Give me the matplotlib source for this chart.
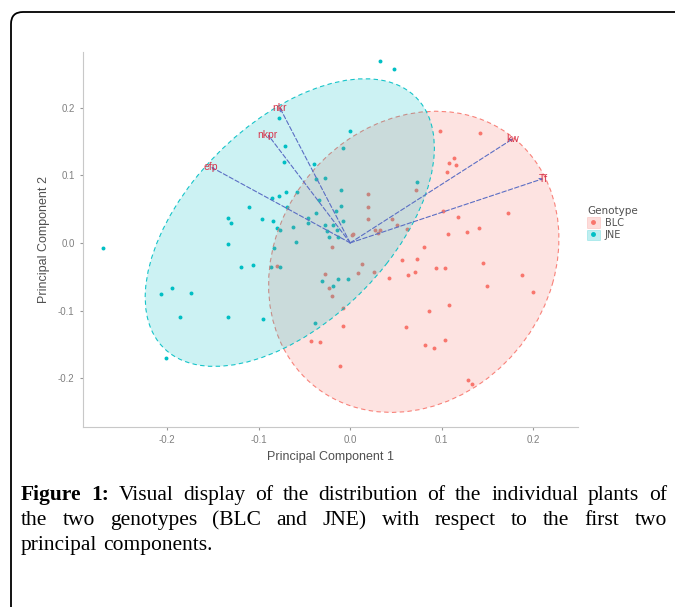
import matplotlib
matplotlib.use("Agg")
import matplotlib.pyplot as plt
from matplotlib.patches import Ellipse, FancyBboxPatch, Patch
from matplotlib.lines import Line2D

# PC scores of the individual plants
jne_pc1 = [0.033, 0.048, -0.078, -0.071, -0.072, 0.000, -0.008, -0.040, -0.037, -0.028,
           -0.010, -0.085, -0.078, -0.070, -0.058, -0.111, -0.134, -0.130, -0.133, -0.270,
           -0.096, -0.084, -0.080, -0.077, -0.069, -0.062, -0.046, -0.046, -0.034, -0.037,
           -0.010, -0.015, -0.008, -0.028, -0.019, -0.025, -0.014, -0.023, -0.013, -0.059,
           0.073, -0.083, -0.086, -0.077, -0.119, -0.106, -0.207, -0.195, -0.174, -0.186,
           -0.133, -0.095, -0.201, -0.031, -0.019, -0.013, -0.002, -0.038]
jne_pc2 = [0.268, 0.257, 0.184, 0.143, 0.119, 0.165, 0.140, 0.116, 0.094, 0.096,
           0.078, 0.067, 0.070, 0.075, 0.075, 0.053, 0.037, 0.029, -0.002, -0.008,
           0.036, 0.033, 0.022, 0.019, 0.053, 0.023, 0.037, 0.029, 0.064, 0.044,
           0.055, 0.047, 0.032, 0.026, 0.026, 0.017, 0.019, 0.008, 0.008, 0.001,
           0.090, -0.008, -0.036, -0.036, -0.036, -0.032, -0.076, -0.067, -0.074, -0.110,
           -0.110, -0.113, -0.170, -0.057, -0.064, -0.054, -0.054, -0.119]

blc_pc1 = [0.098, 0.142, 0.113, 0.108, 0.116, 0.106, 0.072, 0.019, 0.020, 0.020,
           0.102, 0.118, 0.172, 0.046, 0.051, 0.062, 0.027, 0.033, 0.030, 0.107,
           0.128, 0.141, 0.003, 0.081, -0.020, 0.057, 0.073, 0.145, 0.013, -0.027,
           0.009, 0.026, 0.042, 0.063, 0.071, 0.094, 0.104, 0.188, 0.149, 0.200,
           -0.023, -0.020, 0.108, 0.086, -0.008, -0.008, 0.061, 0.104, 0.082, 0.092,
           -0.043, -0.033, -0.011, 0.129, 0.133, -0.080, 0.002]
blc_pc2 = [0.165, 0.163, 0.125, 0.118, 0.115, 0.104, 0.078, 0.072, 0.053, 0.036,
           0.047, 0.038, 0.044, 0.036, 0.026, 0.020, 0.019, 0.019, 0.014, 0.013,
           0.016, 0.022, 0.013, -0.006, -0.006, -0.026, -0.024, -0.029, -0.031, -0.046,
           -0.045, -0.043, -0.052, -0.048, -0.043, -0.037, -0.037, -0.048, -0.064, -0.073,
           -0.067, -0.079, -0.092, -0.100, -0.096, -0.123, -0.125, -0.144, -0.151, -0.156,
           -0.145, -0.147, -0.182, -0.203, -0.209, -0.034, 0.011]

# variable loadings (arrows)
var_names = ["nkr", "nkpr", "efp", "kw", "Tf"]
var_pc1 = [-0.077, -0.090, -0.152, 0.178, 0.211]
var_pc2 = [0.200, 0.160, 0.112, 0.154, 0.095]

# normal-probability ellipses per genotype
genotypes = ["BLC", "JNE"]
ell_cx = [0.0695, -0.066]
ell_cy = [-0.028, 0.030]
ell_w = [0.45, 0.47]
ell_h = [0.31, 0.244]
ell_ang = [78, 60]
colors = ["#F8766D", "#00BFC4"]

ticks = [-0.2, -0.1, 0.0, 0.1, 0.2]

W, H = 675, 607
fig = plt.figure(figsize=(W / 100, H / 100), dpi=100)

# outer frame of the figure box
frame = FancyBboxPatch((0.11, -0.5), 7.5, 6.45, boxstyle="round,pad=0,rounding_size=0.12",
                       transform=fig.dpi_scale_trans, fc="none", ec="black", lw=1.3)
fig.add_artist(frame)

ax = fig.add_axes([83 / W, (H - 427) / H, (578 - 83) / W, (427 - 52) / H])

ax.scatter(blc_pc1, blc_pc2, s=8, color=colors[0], lw=0, zorder=2)
ax.scatter(jne_pc1, jne_pc2, s=8, color=colors[1], lw=0, zorder=2)

for i in range(2):
    e = Ellipse((ell_cx[i], ell_cy[i]), ell_w[i], ell_h[i], angle=ell_ang[i],
                fc=colors[i], alpha=0.2, ec="none", zorder=3)
    ax.add_patch(e)
    e2 = Ellipse((ell_cx[i], ell_cy[i]), ell_w[i], ell_h[i], angle=ell_ang[i],
                 fc="none", ec=colors[i], lw=0.8, ls=(0, (4, 3)), alpha=0.9, zorder=3)
    ax.add_patch(e2)

for name, x, y in zip(var_names, var_pc1, var_pc2):
    ax.annotate("", xy=(x, y), xytext=(0, 0),
                arrowprops=dict(arrowstyle="->", color="#5b6ec4", lw=0.8, ls=(0, (4, 2)),
                                shrinkA=0, shrinkB=0, mutation_scale=5), zorder=4)
    ax.text(x, y, name, color="#d8334a", fontsize=7.5, ha="center", va="center",
            family="Liberation Sans", zorder=5)

ax.set_xlim(-0.292, 0.249)
ax.set_ylim(-0.272, 0.282)
ax.set_xticks(ticks)
ax.set_yticks(ticks)
ax.set_xticklabels([f"{t:.1f}" for t in ticks])
ax.set_yticklabels([f"{t:.1f}" for t in ticks])
for s in ["top", "right"]:
    ax.spines[s].set_visible(False)
for s in ["left", "bottom"]:
    ax.spines[s].set_color("#c8c8c8")
    ax.spines[s].set_linewidth(0.8)
ax.tick_params(colors="#9a9a9a", labelcolor="#808080", labelsize=7, length=2.5, width=0.8)
for lab in ax.get_xticklabels() + ax.get_yticklabels():
    lab.set_family("Liberation Sans")
ax.set_xlabel("Principal Component 1", fontsize=9, color="#505050", family="Liberation Sans", labelpad=4)
ax.set_ylabel("Principal Component 2", fontsize=9, color="#505050", family="Liberation Sans", labelpad=6)

handles = [(Patch(fc=c, alpha=0.25, ec=c, lw=0.6), Line2D([], [], marker="o", ms=2.5, color=c, ls="none"))
           for c in colors]
leg = fig.legend(handles, genotypes, title="Genotype", loc="upper left",
                 bbox_to_anchor=(587 / W, 1 - 206 / H), frameon=False, fontsize=7,
                 title_fontsize=7.5, handlelength=1.3, handleheight=1.3, handletextpad=0.5,
                 labelspacing=0.15, borderaxespad=0, borderpad=0, alignment="left")
for t in leg.get_texts():
    t.set_color("#505050")
leg.get_title().set_color("#505050")

# caption, justified like the journal layout
renderer = fig.canvas.get_renderer()
lines = [
    ("Figure 1: Visual display of the distribution of the individual plants of", 2, True),
    ("the two genotypes (BLC and JNE) with respect to the first two", 0, True),
    ("principal components.", 0, False),
]
x0, x1 = 21, 667
fsize = 15.5

y = 500
for text, n_bold, just in lines:
    words = text.split()
    tt = []
    for i, w in enumerate(words):
        tt.append(fig.text(0, 1 - y / H, w, fontsize=fsize, family="Liberation Serif",
                           fontweight="bold" if i < n_bold else "normal", va="baseline"))
    widths = [t.get_window_extent(renderer).width for t in tt]
    gap = (x1 - x0 - sum(widths)) / (len(words) - 1) if just else fsize * 0.35
    x = x0
    for t, wd in zip(tt, widths):
        t.set_x(x / W)
        x += wd + gap
    y += 25

fig.savefig("out.png", dpi=100)
